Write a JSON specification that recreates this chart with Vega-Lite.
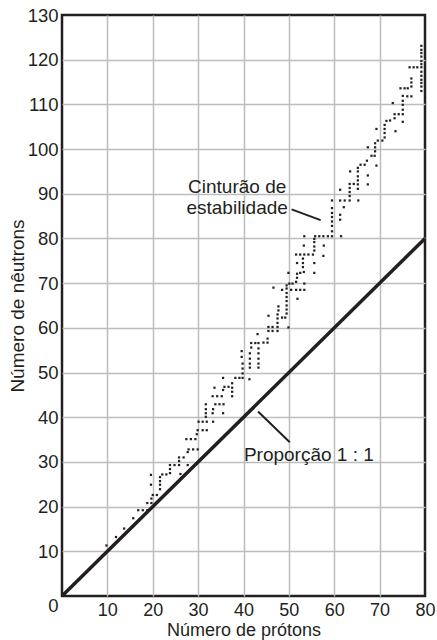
{
  "$schema": "https://vega.github.io/schema/vega-lite/v6.json",
  "width": 363,
  "height": 581,
  "autosize": {"type": "none"},
  "padding": {"left": 62, "top": 15, "right": 12, "bottom": 44},
  "background": "white",
  "datasets": {
    "diag": [{"x": 0, "y": 0}, {"x": 80, "y": 80}],
    "leaders": [
      {"x": 50.6, "y": 86.5, "x2": 57.0, "y2": 84.1},
      {"x": 43.2, "y": 41.3, "x2": 50.2, "y2": 34.4}
    ],
    "labels": [
      {"x": 38.6, "y": 90.1, "label": "Cinturão de"},
      {"x": 38.6, "y": 85.5, "label": "estabilidade"},
      {"x": 54.4, "y": 30.3, "label": "Proporção 1 : 1"}
    ],
    "nuclides": [
      {"x": 9.8, "y": 11.3}, {"x": 11.9, "y": 13.2}, {"x": 13.7, "y": 15.1}, {"x": 15.7, "y": 17.4},
      {"x": 16.8, "y": 19.2}, {"x": 17.8, "y": 19.2}, {"x": 18.8, "y": 19.2}, {"x": 18.8, "y": 20.8},
      {"x": 19.7, "y": 20.8}, {"x": 19.7, "y": 21.8}, {"x": 20.0, "y": 22.6}, {"x": 20.9, "y": 22.6},
      {"x": 19.6, "y": 24.9}, {"x": 19.6, "y": 27.1}, {"x": 21.6, "y": 23.9}, {"x": 21.6, "y": 24.9},
      {"x": 21.6, "y": 25.7}, {"x": 21.6, "y": 26.6}, {"x": 22.1, "y": 27.2}, {"x": 23.0, "y": 27.2},
      {"x": 23.8, "y": 27.5}, {"x": 23.8, "y": 28.4}, {"x": 23.8, "y": 29.3}, {"x": 24.8, "y": 29.3},
      {"x": 25.8, "y": 29.3}, {"x": 26.1, "y": 27.3}, {"x": 25.8, "y": 30.2}, {"x": 25.8, "y": 31.0},
      {"x": 26.8, "y": 31.0}, {"x": 27.7, "y": 32.2}, {"x": 27.9, "y": 32.8}, {"x": 28.9, "y": 32.8},
      {"x": 29.9, "y": 32.8}, {"x": 27.7, "y": 29.3}, {"x": 27.4, "y": 35.1}, {"x": 28.4, "y": 35.1},
      {"x": 29.4, "y": 35.1},
      {"x": 29.9, "y": 37.1}, {"x": 31.0, "y": 37.1}, {"x": 31.9, "y": 37.1}, {"x": 29.7, "y": 36.2},
      {"x": 30.1, "y": 39.0}, {"x": 31.0, "y": 39.0}, {"x": 31.9, "y": 39.0}, {"x": 33.3, "y": 39.0},
      {"x": 31.7, "y": 40.1}, {"x": 31.7, "y": 40.9}, {"x": 31.7, "y": 41.8}, {"x": 31.7, "y": 42.9},
      {"x": 33.2, "y": 40.9}, {"x": 33.3, "y": 41.8}, {"x": 33.8, "y": 42.9}, {"x": 34.7, "y": 42.9},
      {"x": 35.6, "y": 42.9}, {"x": 35.5, "y": 40.9}, {"x": 33.2, "y": 44.7}, {"x": 34.2, "y": 44.7},
      {"x": 35.2, "y": 44.7}, {"x": 33.6, "y": 46.6}, {"x": 35.5, "y": 46.1}, {"x": 35.8, "y": 46.8},
      {"x": 36.7, "y": 46.8}, {"x": 37.5, "y": 44.7}, {"x": 37.5, "y": 45.7}, {"x": 37.5, "y": 46.6},
      {"x": 37.5, "y": 47.6}, {"x": 35.5, "y": 48.8}, {"x": 38.2, "y": 48.8}, {"x": 39.1, "y": 48.8},
      {"x": 39.8, "y": 48.8}, {"x": 39.8, "y": 49.8}, {"x": 39.8, "y": 50.9}, {"x": 39.8, "y": 52.0},
      {"x": 39.6, "y": 53.5}, {"x": 39.6, "y": 54.8}, {"x": 41.3, "y": 48.5}, {"x": 41.4, "y": 51.1},
      {"x": 41.4, "y": 52.0}, {"x": 41.4, "y": 53.1}, {"x": 41.4, "y": 54.3}, {"x": 41.7, "y": 55.6},
      {"x": 41.7, "y": 56.6}, {"x": 42.6, "y": 56.6}, {"x": 43.3, "y": 56.6}, {"x": 43.3, "y": 55.4},
      {"x": 43.3, "y": 54.3}, {"x": 43.3, "y": 53.1}, {"x": 43.3, "y": 52.0}, {"x": 43.3, "y": 51.1},
      {"x": 44.4, "y": 56.7}, {"x": 45.3, "y": 56.7}, {"x": 43.1, "y": 58.6}, {"x": 45.3, "y": 57.6},
      {"x": 45.5, "y": 59.3}, {"x": 46.4, "y": 59.3}, {"x": 47.5, "y": 59.3}, {"x": 45.5, "y": 60.2},
      {"x": 46.4, "y": 60.2}, {"x": 47.5, "y": 60.2}, {"x": 47.5, "y": 61.1}, {"x": 47.5, "y": 62.1},
      {"x": 47.5, "y": 63.0}, {"x": 47.7, "y": 63.9}, {"x": 47.7, "y": 64.8}, {"x": 45.5, "y": 62.7},
      {"x": 48.5, "y": 62.3}, {"x": 49.2, "y": 62.3}, {"x": 49.5, "y": 63.2}, {"x": 49.5, "y": 64.1},
      {"x": 49.5, "y": 65.0}, {"x": 49.5, "y": 66.0}, {"x": 49.5, "y": 66.9}, {"x": 49.5, "y": 67.8},
      {"x": 49.5, "y": 68.8}, {"x": 49.5, "y": 69.5}, {"x": 49.9, "y": 60.1}, {"x": 46.6, "y": 69.0},
      {"x": 48.5, "y": 68.5}, {"x": 50.5, "y": 68.5}, {"x": 51.6, "y": 68.5}, {"x": 52.5, "y": 68.5},
      {"x": 53.4, "y": 68.5}, {"x": 50.1, "y": 69.9}, {"x": 50.8, "y": 69.9}, {"x": 51.6, "y": 70.3},
      {"x": 51.8, "y": 71.2}, {"x": 51.8, "y": 72.1}, {"x": 51.9, "y": 66.5}, {"x": 53.4, "y": 69.9},
      {"x": 49.9, "y": 72.3}, {"x": 52.5, "y": 72.3}, {"x": 53.3, "y": 72.5}, {"x": 51.8, "y": 74.5},
      {"x": 53.1, "y": 73.6}, {"x": 53.1, "y": 74.5}, {"x": 53.1, "y": 75.5}, {"x": 51.6, "y": 76.4},
      {"x": 52.5, "y": 76.4}, {"x": 53.4, "y": 76.4}, {"x": 54.3, "y": 76.4}, {"x": 55.3, "y": 76.4},
      {"x": 53.3, "y": 78.4}, {"x": 55.6, "y": 74.5}, {"x": 55.6, "y": 72.3}, {"x": 55.6, "y": 77.3},
      {"x": 55.6, "y": 78.2}, {"x": 55.6, "y": 79.2}, {"x": 55.6, "y": 79.9}, {"x": 53.4, "y": 80.5},
      {"x": 55.8, "y": 80.5}, {"x": 56.7, "y": 80.5}, {"x": 57.6, "y": 80.5}, {"x": 57.7, "y": 78.4},
      {"x": 57.6, "y": 76.1},
      {"x": 58.6, "y": 80.5}, {"x": 59.5, "y": 80.5}, {"x": 61.5, "y": 80.5}, {"x": 59.5, "y": 81.6},
      {"x": 59.5, "y": 82.8}, {"x": 59.5, "y": 83.8}, {"x": 59.5, "y": 84.8}, {"x": 59.5, "y": 85.7},
      {"x": 59.5, "y": 86.8}, {"x": 59.5, "y": 88.5}, {"x": 61.3, "y": 84.2}, {"x": 61.3, "y": 85.3},
      {"x": 62.1, "y": 87.0}, {"x": 61.3, "y": 88.5}, {"x": 62.3, "y": 88.5}, {"x": 63.4, "y": 88.5},
      {"x": 63.4, "y": 89.5}, {"x": 63.4, "y": 90.4}, {"x": 63.4, "y": 91.3}, {"x": 63.4, "y": 92.2},
      {"x": 65.3, "y": 88.5}, {"x": 61.3, "y": 90.9}, {"x": 64.3, "y": 92.2}, {"x": 65.2, "y": 91.1},
      {"x": 65.2, "y": 92.1}, {"x": 65.2, "y": 93.0}, {"x": 65.2, "y": 93.9}, {"x": 65.2, "y": 95.0},
      {"x": 65.2, "y": 95.8}, {"x": 63.5, "y": 95.0}, {"x": 65.8, "y": 96.5}, {"x": 66.7, "y": 96.5},
      {"x": 67.4, "y": 94.1}, {"x": 67.4, "y": 92.1}, {"x": 67.2, "y": 97.4}, {"x": 68.2, "y": 98.5},
      {"x": 68.9, "y": 98.5}, {"x": 69.3, "y": 96.3}, {"x": 67.4, "y": 100.4}, {"x": 69.0, "y": 99.5},
      {"x": 69.0, "y": 100.4}, {"x": 69.0, "y": 101.3}, {"x": 69.3, "y": 104.5}, {"x": 69.6, "y": 101.9},
      {"x": 70.6, "y": 101.9}, {"x": 71.1, "y": 102.6}, {"x": 71.1, "y": 103.6}, {"x": 71.1, "y": 104.5},
      {"x": 71.1, "y": 105.4}, {"x": 71.5, "y": 106.3}, {"x": 72.3, "y": 106.4},
      {"x": 73.3, "y": 106.9}, {"x": 73.3, "y": 107.8}, {"x": 74.2, "y": 107.8}, {"x": 75.1, "y": 107.8},
      {"x": 73.5, "y": 104.0}, {"x": 75.1, "y": 106.1}, {"x": 75.1, "y": 108.8}, {"x": 75.1, "y": 109.9},
      {"x": 75.1, "y": 110.8}, {"x": 75.1, "y": 111.9}, {"x": 76.1, "y": 111.8}, {"x": 77.0, "y": 111.8},
      {"x": 72.9, "y": 110.3}, {"x": 74.6, "y": 113.6}, {"x": 75.5, "y": 113.6}, {"x": 76.2, "y": 113.6},
      {"x": 77.0, "y": 114.0}, {"x": 77.0, "y": 114.9}, {"x": 77.0, "y": 115.8}, {"x": 76.6, "y": 118.3},
      {"x": 77.5, "y": 118.3}, {"x": 78.3, "y": 118.3},
      {"x": 79.2, "y": 123.1}, {"x": 79.2, "y": 122.2}, {"x": 79.2, "y": 121.5}, {"x": 79.2, "y": 120.7},
      {"x": 79.2, "y": 119.7}, {"x": 79.2, "y": 119.0}, {"x": 79.2, "y": 118.3}, {"x": 79.2, "y": 117.3},
      {"x": 79.2, "y": 116.4}, {"x": 79.2, "y": 115.5}, {"x": 79.2, "y": 114.8}, {"x": 79.2, "y": 114.0},
      {"x": 79.2, "y": 113.0}
    ]
  },
  "encoding": {
    "x": {
      "field": "x",
      "type": "quantitative",
      "scale": {"domain": [0, 80], "nice": false, "zero": false},
      "axis": {
        "title": "Número de prótons",
        "values": [0, 10, 20, 30, 40, 50, 60, 70, 80],
        "labelExpr": "datum.value == 0 ? '' : datum.label",
        "labelFlush": false,
        "labelOverlap": false,
        "labelPadding": 5,
        "labelFontSize": 18,
        "titlePadding": 2,
        "titleFontSize": 18,
        "gridColor": {"condition": {"test": "datum.value == 0 || datum.value == 80", "value": "transparent"}, "value": "#bdbdbd"}
      }
    },
    "y": {
      "field": "y",
      "type": "quantitative",
      "scale": {"domain": [0, 130], "nice": false, "zero": false},
      "axis": {
        "title": "Número de nêutrons",
        "values": [0, 10, 20, 30, 40, 50, 60, 70, 80, 90, 100, 110, 120, 130],
        "labelFlush": false,
        "labelOverlap": false,
        "labelPadding": 4,
        "titlePadding": 0,
        "labelBaseline": {"condition": {"test": "datum.value == 0", "value": "top"}, "value": "middle"},
        "gridColor": {"condition": {"test": "datum.value == 0 || datum.value == 130", "value": "transparent"}, "value": "#bdbdbd"}
      }
    }
  },
  "layer": [
    {
      "data": {"name": "nuclides"},
      "mark": {"type": "point", "shape": "square", "filled": true, "size": 5, "color": "#231f20", "opacity": 1}
    },
    {
      "data": {"name": "diag"},
      "mark": {"type": "line", "color": "#231f20", "strokeWidth": 3.5, "strokeCap": "butt"}
    },
    {
      "data": {"name": "leaders"},
      "mark": {"type": "rule", "color": "#231f20", "strokeWidth": 2},
      "encoding": {"x2": {"field": "x2"}, "y2": {"field": "y2"}}
    },
    {
      "data": {"name": "labels"},
      "mark": {"type": "text", "font": "Liberation Sans", "fontSize": 19, "color": "#231f20", "baseline": "alphabetic", "align": "center"},
      "encoding": {"text": {"field": "label"}}
    }
  ],
  "config": {
    "view": {"stroke": "#231f20", "strokeWidth": 2.5},
    "axis": {
      "domain": false,
      "ticks": false,
      "tickSize": 0,
      "gridWidth": 1.5,
      "labelFont": "Liberation Sans",
      "labelFontSize": 18.5,
      "labelColor": "#231f20",
      "titleFont": "Liberation Sans",
      "titleFontSize": 19,
      "titleFontWeight": "normal",
      "titleColor": "#231f20"
    }
  }
}
